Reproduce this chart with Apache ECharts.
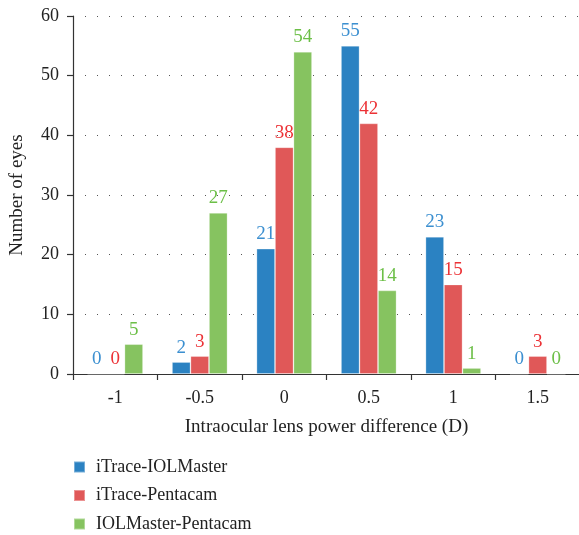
<!DOCTYPE html>
<html><head><meta charset="utf-8">
<script src="https://cdn.jsdelivr.net/npm/echarts@6/dist/echarts.min.js"></script>
<style>html,body{margin:0;padding:0;background:#fff}#c{width:579px;height:535px}</style>
</head><body><div id="c"></div>
<script>
const categories = ['-1', '-0.5', '0', '0.5', '1', '1.5'];
const seriesNames = ['iTrace-IOLMaster', 'iTrace-Pentacam', 'IOLMaster-Pentacam'];
const iTraceIOLMaster = [0, 2, 21, 55, 23, 0];
const iTracePentacam = [0, 3, 38, 42, 15, 3];
const iolMasterPentacam = [5, 27, 54, 14, 1, 0];
const yTicks = {min: 0, max: 60, interval: 10};

const barColors = ['#2b82c2', '#e05858', '#86c360'];
const labelColors = ['#3b8fd0', '#ec3236', '#6cbf47'];
const font = 'Liberation Serif';
const dataSets = [iTraceIOLMaster, iTracePentacam, iolMasterPentacam];

const chart = echarts.init(document.getElementById('c'));
chart.setOption({
  animation: false,
  textStyle: {fontFamily: font},
  grid: {left: 73, top: 16, width: 507, height: 358, containLabel: false, outerBoundsMode: 'none'},
  legend: {
    orient: 'vertical', left: 73, top: 458, width: 400, height: 300, padding: 0, itemGap: 10.5, itemWidth: 11, itemHeight: 11,
    icon: 'rect', data: seriesNames,
    textStyle: {fontFamily: font, fontSize: 18, color: '#222', padding: [0, 0, 0, 6]}
  },
  xAxis: {
    type: 'category', data: categories,
    name: 'Intraocular lens power difference (D)', nameLocation: 'middle', nameGap: 44,
    nameTextStyle: {fontFamily: font, fontSize: 19, color: '#222'},
    axisLine: {lineStyle: {color: '#333', width: 1.2}},
    axisTick: {show: true, alignWithLabel: false, length: 6, lineStyle: {color: '#333', width: 1.2}},
    axisLabel: {fontFamily: font, fontSize: 18, color: '#222', margin: 15}
  },
  yAxis: {
    type: 'value', min: yTicks.min, max: yTicks.max, interval: yTicks.interval,
    name: 'Number of eyes', nameLocation: 'middle', nameGap: 46,
    nameTextStyle: {fontFamily: font, fontSize: 19, color: '#222'},
    axisLine: {show: true, lineStyle: {color: '#333', width: 1.2}},
    axisTick: {show: true, length: 6, lineStyle: {color: '#333', width: 1.2}},
    axisLabel: {fontFamily: font, fontSize: 18, color: '#222', margin: 14},
    splitLine: {show: true, lineStyle: {color: '#555', type: [1, 11], width: 1}}
  },
  series: dataSets.map((d, i) => ({
    name: seriesNames[i], type: 'bar', data: d,
    barWidth: 18.5, barGap: '0%',
    itemStyle: {color: barColors[i], borderColor: 'rgba(255,255,255,0.35)', borderWidth: 0.8},
    label: {show: true, position: 'top', distance: 5, color: labelColors[i], fontFamily: font, fontSize: 19}
  }))
});
</script></body></html>
